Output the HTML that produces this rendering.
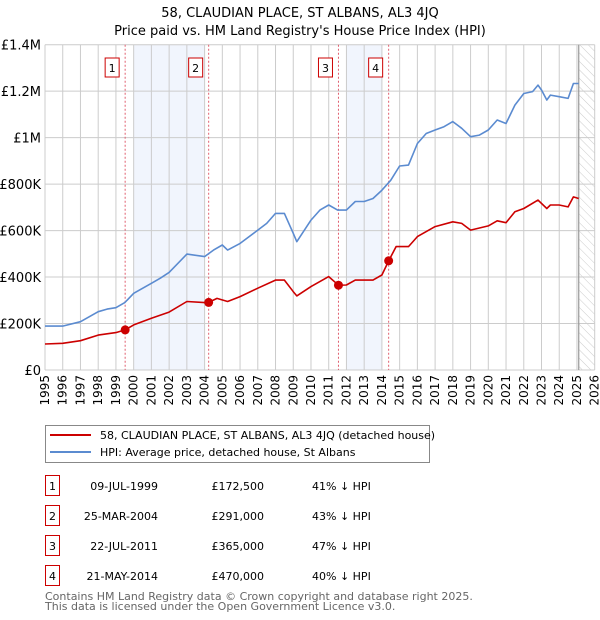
<!DOCTYPE html>
<html><head><meta charset="utf-8"><style>
body{margin:0;background:#fff;font-family:"DejaVu Sans","Liberation Sans",sans-serif;}
#wrap{position:relative;width:600px;height:620px;overflow:hidden;}
</style></head><body>
<div id="wrap">
<svg id="chart" width="600" height="620" xmlns="http://www.w3.org/2000/svg" font-family="DejaVu Sans, Liberation Sans, sans-serif"></svg>
</div>
<script>
const hpiYears=[1995,1996,1997,1998,1998.5,1999,1999.5,2000,2001,2001.5,2002,2003,2004,2004.5,2005,2005.3,2006,2007,2007.5,2008,2008.5,2009,2009.2,2010,2010.5,2011,2011.5,2012,2012.5,2013,2013.5,2014,2014.5,2015,2015.5,2016,2016.5,2017,2017.5,2018,2018.5,2019,2019.5,2020,2020.5,2021,2021.5,2022,2022.5,2022.8,2023,2023.3,2023.5,2024,2024.5,2024.8,2025.1];
const hpiValues=[189,189,208,251,262,268,290,330,373,395,420,499,488,516,538,516,545,602,631,674,674,588,552,645,688,710,688,688,725,725,738,774,817,878,882,975,1018,1033,1047,1069,1040,1004,1011,1033,1076,1061,1140,1190,1198,1226,1205,1162,1183,1176,1169,1233,1233];
const ppYears=[1995,1996,1997,1998,1999,1999.52,2000,2001,2002,2003,2004,2004.23,2004.7,2005.3,2006,2007,2008,2008.5,2009,2009.2,2010,2011,2011.55,2012,2012.5,2013.5,2014,2014.38,2014.8,2015.5,2016,2017,2018,2018.5,2019,2020,2020.5,2021,2021.5,2022,2022.8,2023.3,2023.5,2024,2024.5,2024.8,2025.1];
const ppValues=[112,115,126,150,161,172.5,194,223,249,295,290,291,308,295,316,352,387,387,337,319,359,402,365,366,387,387,409,470,531,531,574,617,638,631,602,620,642,634,681,695,731,695,710,710,702,745,738];
const saleIds=["1","2","3","4"];
const saleYears=[1999.52,2004.23,2011.55,2014.38];
const saleValues=[172.5,291,365,470];
const saleDates=["09-JUL-1999","25-MAR-2004","22-JUL-2011","21-MAY-2014"];
const salePrices=["£172,500","£291,000","£365,000","£470,000"];
const saleDiffs=["41% ↓ HPI","43% ↓ HPI","47% ↓ HPI","40% ↓ HPI"];
const yTicks=[0,200,400,600,800,1000,1200,1400];
const yTickLabels=["£0","£200K","£400K","£600K","£800K","£1M","£1.2M","£1.4M"];
const shadeRanges=[[2000,2004],[2012,2014]];

const NS="http://www.w3.org/2000/svg";
const svg=document.getElementById('chart');
const X0=45,X1=594.7,Y0=370,Y1=44.7;
const xs=y=>X0+(y-1995)/(2026-1995)*(X1-X0);
const ys=v=>Y0-v/1400*(Y0-Y1);
function el(t,a,p){const e=document.createElementNS(NS,t);for(const k in a)e.setAttribute(k,a[k]);(p||svg).appendChild(e);return e;}

const title1=el('text',{x:300,y:17,'text-anchor':'middle','font-size':13,fill:'#000'});title1.textContent='58, CLAUDIAN PLACE, ST ALBANS, AL3 4JQ';

const title2=el('text',{x:300,y:35,'text-anchor':'middle','font-size':13,fill:'#000'});title2.textContent="Price paid vs. HM Land Registry's House Price Index (HPI)";


shadeRanges.forEach(r=>{const s=el('rect',{x:xs(r[0]),y:Y1,width:xs(r[1])-xs(r[0]),height:Y0-Y1,fill:'#eef3fd',opacity:0.8});
});
// hatch
const defs=el('defs',{});
const pat=el('pattern',{id:'hatch',width:6,height:6,patternUnits:'userSpaceOnUse',patternTransform:'rotate(-45)'},defs);
el('line',{x1:0,y1:0,x2:0,y2:6,stroke:'#ccc','stroke-width':1},pat);
const hx=xs(2025.1);
const hr=el('rect',{x:hx,y:Y1,width:X1-hx,height:Y0-Y1,fill:'url(#hatch)'});


for(let yr=1995;yr<=2026;yr++){const g=el('line',{x1:xs(yr),x2:xs(yr),y1:Y1,y2:Y0,stroke:'#ccc','stroke-width':1});

const t=el('text',{x:0,y:0,'font-size':12,fill:'#000','text-anchor':'end',transform:`translate(${xs(yr)+4},${Y0+5}) rotate(-90)`});t.textContent=yr;
}
yTicks.forEach((v,i)=>{const g=el('line',{x1:X0,x2:X1,y1:ys(v),y2:ys(v),stroke:'#ccc','stroke-width':1});

const t=el('text',{x:X0-4,y:ys(v)+5,'font-size':13,'text-anchor':'end',fill:'#000'});t.textContent=yTickLabels[i];
});
const vl=el('line',{x1:hx,x2:hx,y1:Y1,y2:Y0,stroke:'#999','stroke-width':1.2});


saleYears.forEach((yr,i)=>{const l=el('line',{x1:xs(yr),x2:xs(yr),y1:Y1,y2:Y0,stroke:'#e06070','stroke-width':1,'stroke-dasharray':'2,2'});

const b=el('rect',{x:xs(yr)-20,y:58,width:14,height:19,fill:'#fff',stroke:'#c00','stroke-width':1});

const t=el('text',{x:xs(yr)-13,y:72,'font-size':11,'text-anchor':'middle',fill:'#000'});t.textContent=saleIds[i];
});

function line(xa,va,c,name){const p=el('polyline',{points:xa.map((x,i)=>xs(x).toFixed(1)+','+ys(va[i]).toFixed(1)).join(' '),fill:'none',stroke:c,'stroke-width':1.6,'stroke-linejoin':'round'});
}
line(hpiYears,hpiValues,'#5b8bd0','hpi-line');
line(ppYears,ppValues,'#cc0000','price-paid-line');
saleYears.forEach((yr,i)=>{const c=el('circle',{cx:xs(yr),cy:ys(saleValues[i]),r:4.5,fill:'#cc0000'});
});

// legend
const lg=el('rect',{x:45.5,y:425.5,width:384,height:37,fill:'#fff',stroke:'#888','stroke-width':1});

[['#cc0000','58, CLAUDIAN PLACE, ST ALBANS, AL3 4JQ (detached house)',435,'legend-entry-price-paid'],['#5b8bd0','HPI: Average price, detached house, St Albans',452,'legend-entry-hpi']].forEach(e=>{
const l=el('line',{x1:50,x2:91,y1:e[2],y2:e[2],stroke:e[0],'stroke-width':2});
const t=el('text',{x:100,y:e[2]+4,'font-size':11,fill:'#000'});t.textContent=e[1];});

// table
saleIds.forEach((id,i)=>{const y=483+i*30;
const b=el('rect',{x:45.5,y:y-7.5,width:14,height:20,fill:'#fff',stroke:'#c00','stroke-width':1});
const t0=el('text',{x:52.5,y:y+7,'font-size':11,'text-anchor':'middle'});t0.textContent=id;
const t1=el('text',{x:158,y:y+7,'font-size':11,'text-anchor':'end'});t1.textContent=saleDates[i];
const t2=el('text',{x:264,y:y+7,'font-size':11,'text-anchor':'end'});t2.textContent=salePrices[i];
const t3=el('text',{x:312,y:y+7,'font-size':11});t3.textContent=saleDiffs[i];});
const f1=el('text',{x:45,y:600,'font-size':11,fill:'#666'});f1.textContent='Contains HM Land Registry data © Crown copyright and database right 2025.';

const f2=el('text',{x:45,y:610,'font-size':11,fill:'#666'});f2.textContent='This data is licensed under the Open Government Licence v3.0.';

</script>
</body></html>
